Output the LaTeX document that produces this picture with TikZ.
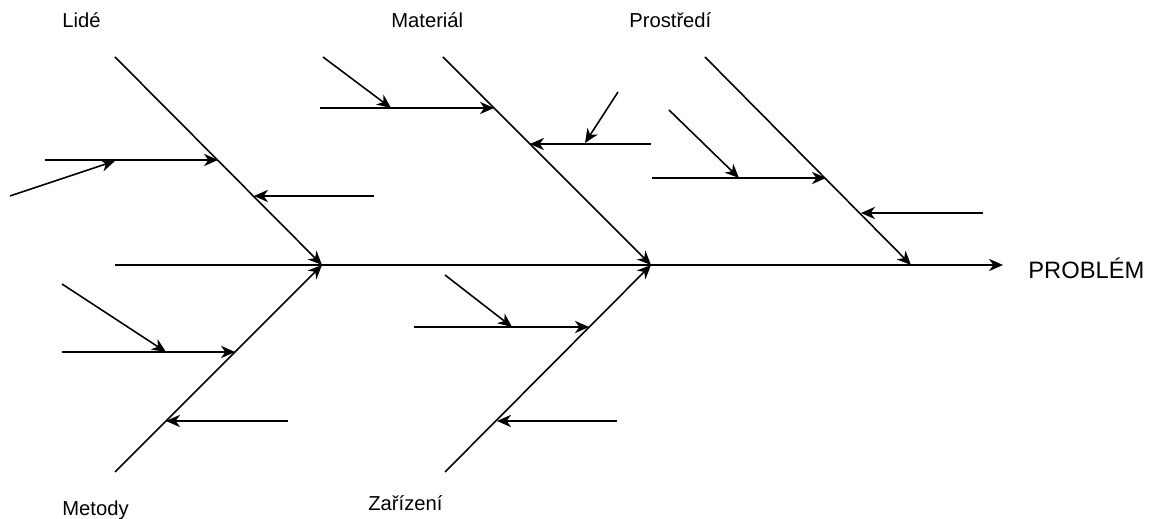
\documentclass[tikz,border=0pt]{standalone}
\usepackage{fontspec}
\setmainfont{Liberation Sans}
\usetikzlibrary{arrows.meta,positioning}
\tikzset{
  bone/.style={-{Stealth[length=8pt,width=7pt,inset=2.5pt]},line width=0.9pt},
  cause/.style={font=\fontsize{11.5}{13}\selectfont,inner sep=0pt,anchor=base west},
  effect/.style={font=\fontsize{13.5}{15}\selectfont,inner sep=0pt,anchor=west}
}
\begin{document}
\begin{tikzpicture}[x=0.02cm,y=-0.02cm]
  \useasboundingbox (0,0) rectangle (1154,519);

  % spine and problem
  \coordinate (tail) at (115,265);
  \coordinate (head) at (1003,265);
  \node[effect] (problem) at (1028,268) {PROBLÉM};
  \draw[bone] (tail) -- (head);

  % main bones
  \coordinate (lide) at (115,57);      \coordinate (j1) at (322,265);
  \coordinate (metody) at (115,472);
  \coordinate (material) at (443,57);  \coordinate (j2) at (651,265);
  \coordinate (zarizeni) at (445,472);
  \coordinate (prostredi) at (705,57); \coordinate (j3) at (911,265);

  \node[cause] (lide label) at (62,28) {Lidé};
  \node[cause] (metody label) at (62,516) {Metody};
  \node[cause] (material label) at (391,28) {Materiál};
  \node[cause] (zarizeni label) at (368,511) {Zařízení};
  \node[cause] (prostredi label) at (629,28) {Prostředí};

  \draw[bone] (lide) -- (j1);
  \draw[bone] (metody) -- (j1);
  \draw[bone] (material) -- (j2);
  \draw[bone] (zarizeni) -- (j2);
  \draw[bone] (prostredi) -- (j3);

  % Lide
  \coordinate (l1s) at (45,160);  \coordinate (l1e) at (218,160);
  \coordinate (l1a) at (10,196);  \coordinate (l1b) at (115,161);
  \coordinate (l2s) at (374,196); \coordinate (l2e) at (254,196);
  \draw[bone] (l1s) -- (l1e);
  \draw[bone] (l1a) -- (l1b);
  \draw[bone] (l2s) -- (l2e);

  % Metody
  \coordinate (m1s) at (62,352);  \coordinate (m1e) at (235,352);
  \coordinate (m1a) at (62,284);  \coordinate (m1b) at (166,352);
  \coordinate (m2s) at (288,421); \coordinate (m2e) at (166,421);
  \draw[bone] (m1s) -- (m1e);
  \draw[bone] (m1a) -- (m1b);
  \draw[bone] (m2s) -- (m2e);

  % Material
  \coordinate (a1s) at (320,108); \coordinate (a1e) at (494,108);
  \coordinate (a1a) at (323,57);  \coordinate (a1b) at (391,108);
  \coordinate (a2s) at (651,144); \coordinate (a2e) at (530,144);
  \coordinate (a2a) at (618,92);  \coordinate (a2b) at (585,143);
  \draw[bone] (a1s) -- (a1e);
  \draw[bone] (a1a) -- (a1b);
  \draw[bone] (a2s) -- (a2e);
  \draw[bone] (a2a) -- (a2b);

  % Zarizeni
  \coordinate (z1s) at (414,327); \coordinate (z1e) at (589,327);
  \coordinate (z1a) at (445,275); \coordinate (z1b) at (512,327);
  \coordinate (z2s) at (617,421); \coordinate (z2e) at (497,421);
  \draw[bone] (z1s) -- (z1e);
  \draw[bone] (z1a) -- (z1b);
  \draw[bone] (z2s) -- (z2e);

  % Prostredi
  \coordinate (p1s) at (652,178); \coordinate (p1e) at (826,178);
  \coordinate (p1a) at (669,110); \coordinate (p1b) at (739,178);
  \coordinate (p2s) at (983,213); \coordinate (p2e) at (861,213);
  \draw[bone] (p1s) -- (p1e);
  \draw[bone] (p1a) -- (p1b);
  \draw[bone] (p2s) -- (p2e);
\end{tikzpicture}
\end{document}
